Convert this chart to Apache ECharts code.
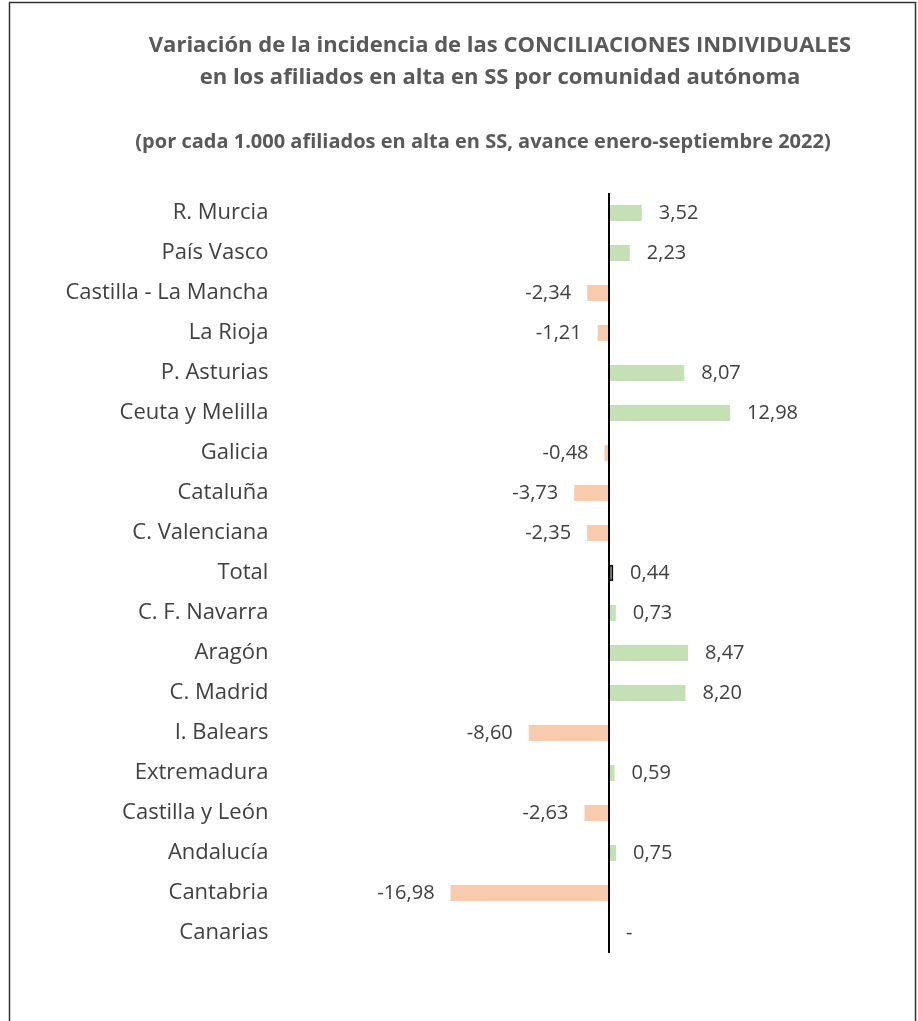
<!DOCTYPE html>
<html>
<head>
<meta charset="utf-8">
<script src="https://cdn.jsdelivr.net/npm/echarts@6/dist/echarts.min.js"></script>
<style>
  html, body { margin: 0; padding: 0; background: #fff; }
  #chart { width: 918px; height: 1021px; }
</style>
</head>
<body>
<div id="chart"></div>
<script>
// datos
const regions = [
  'R. Murcia', 'País Vasco', 'Castilla - La Mancha', 'La Rioja', 'P. Asturias',
  'Ceuta y Melilla', 'Galicia', 'Cataluña', 'C. Valenciana', 'Total',
  'C. F. Navarra', 'Aragón', 'C. Madrid', 'I. Balears', 'Extremadura',
  'Castilla y León', 'Andalucía', 'Cantabria', 'Canarias',
];
const variation = [
  3.52, 2.23, -2.34, -1.21, 8.07,
  12.98, -0.48, -3.73, -2.35, 0.44,
  0.73, 8.47, 8.20, -8.60, 0.59,
  -2.63, 0.75, -16.98, 0,
];
const xTicks = [-20, 20];

const FONT = '"Open Sans"';
const GREEN = '#c5e0b4';
const ORANGE = '#f8cbad';

const fmt = v => (v === 0 ? '-' : v.toFixed(2).replace('.', ','));

const barData = variation.map((v, i) => {
  const item = { value: v };
  if (regions[i] === 'Total') {
    item.itemStyle = { color: GREEN, borderColor: '#000', borderWidth: 1.5 };
  } else {
    item.itemStyle = { color: v < 0 ? ORANGE : GREEN };
  }
  item.label = v < 0 ? { position: 'left', distance: 16 } : { position: 'right', distance: 17 };
  return item;
});

const myChart = echarts.init(document.getElementById('chart'), null, { renderer: 'canvas' });

const option = {
  animation: false,
  backgroundColor: '#fff',
  graphic: [
    {
      type: 'rect',
      shape: { x: 9.5, y: 2.5, width: 906, height: 1040 },
      style: { fill: 'none', stroke: '#333', lineWidth: 1.5 },
      silent: true,
    },
    {
      type: 'text',
      x: 500, y: 46,
      style: {
        text: 'Variación de la incidencia de las CONCILIACIONES INDIVIDUALES',
        font: 'bold 22px ' + FONT, fill: '#595959',
        textAlign: 'center', textVerticalAlign: 'middle',
      },
    },
    {
      type: 'text',
      x: 500, y: 78,
      style: {
        text: 'en los afiliados en alta en SS por comunidad autónoma',
        font: 'bold 22px ' + FONT, fill: '#595959',
        textAlign: 'center', textVerticalAlign: 'middle',
      },
    },
    {
      type: 'text',
      x: 483, y: 142,
      style: {
        text: '(por cada 1.000 afiliados en alta en SS, avance enero-septiembre 2022)',
        font: 'bold 20px ' + FONT, fill: '#595959',
        textAlign: 'center', textVerticalAlign: 'middle',
      },
    },
  ],
  grid: {
    left: 422.4,
    width: 373.2,
    top: 193,
    height: 760,
  },
  xAxis: {
    type: 'value',
    min: xTicks[0],
    max: xTicks[1],
    show: false,
  },
  yAxis: {
    type: 'category',
    data: regions,
    inverse: true,
    axisLine: { show: false },
    axisTick: { show: false },
    splitLine: { show: false },
    axisLabel: {
      margin: 154,
      fontFamily: FONT,
      fontSize: 22,
      color: '#404040',
      padding: [4, 0, 0, 0],
    },
  },
  series: [
    {
      type: 'bar',
      data: barData,
      barWidth: 16,
      label: {
        show: true,
        fontFamily: FONT,
        fontSize: 20,
        color: '#404040',
        padding: [5, 0, 0, 0],
        formatter: p => fmt(p.value),
      },
      markLine: {
        silent: true,
        symbol: 'none',
        label: { show: false },
        lineStyle: { color: '#000', width: 2, type: 'solid' },
        data: [{ xAxis: 0 }],
      },
    },
  ],
};

myChart.setOption(option, true);
</script>
</body>
</html>
